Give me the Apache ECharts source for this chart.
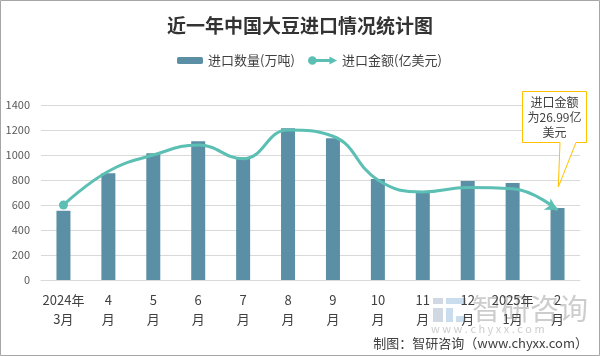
<!DOCTYPE html>
<html><head><meta charset="utf-8">
<script src="https://cdn.jsdelivr.net/npm/echarts@6/dist/echarts.min.js"></script>
<style>html,body{margin:0;padding:0;background:#fff}#c{width:600px;height:356px}</style>
</head><body><div id="c"></div>
<script>
var categories = ['2024年\n3月','4\n月','5\n月','6\n月','7\n月','8\n月','9\n月','10\n月','11\n月','12\n月','2025年\n1月','2\n月'];
var volume = [555, 855, 1015, 1110, 980, 1215, 1135, 808, 708, 792, 776, 576];
var amount = [600, 870, 1000, 1080, 970, 1200, 1150, 800, 705, 740, 730, 560];
var yTicks = [0, 200, 400, 600, 800, 1000, 1200, 1400];
var volumeName = '进口数量(万吨)';
var amountName = '进口金额(亿美元)';
var calloutText = '进口金额\n为26.99亿\n美元';

var FONT = '"Microsoft YaHei","Noto Sans CJK SC","Noto Sans",sans-serif';
var BAR = '#5b8fa5';
var LINE = '#5cbfb4';

var lineData = amount.map(function (v, i) {
  if (i === 0) return { value: v, symbol: 'circle', symbolSize: 9 };
  if (i === amount.length - 1) return { value: v, symbol: 'arrow', symbolSize: [10, 12], symbolRotate: -120 };
  return v;
});

var chart = echarts.init(document.getElementById('c'), null, { renderer: 'canvas' });
chart.setOption({
  animation: false,
  backgroundColor: '#fff',
  textStyle: { fontFamily: FONT },
  title: {
    text: '近一年中国大豆进口情况统计图',
    left: 'center', top: 11,
    textStyle: { fontSize: 19, fontWeight: 'bold', color: '#333', fontFamily: FONT }
  },
  legend: [{
    data: [volumeName], left: 172, top: 49,
    itemWidth: 26, itemHeight: 7,
    textStyle: { fontSize: 13, color: '#404040', fontFamily: FONT }
  }, {
    data: [{ name: amountName, icon: 'path://M0,15 A15,15 0 1,1 30,15 A15,15 0 1,1 0,15 Z M28,10 L74,10 L74,1 L100,15 L74,29 L74,20 L28,20 Z' }],
    left: 303, top: 49,
    itemWidth: 29, itemHeight: 9,
    textStyle: { fontSize: 13, color: '#404040', fontFamily: FONT }
  }],
  grid: { left: 41, right: 20, top: 105, bottom: 76, containLabel: false },
  xAxis: {
    type: 'category', data: categories,
    axisLine: { lineStyle: { color: '#d9d9d9' } },
    axisTick: { show: false },
    axisLabel: { fontSize: 13, color: '#404040', lineHeight: 19, margin: 11, interval: 0, fontFamily: FONT }
  },
  yAxis: {
    type: 'value', min: yTicks[0], max: yTicks[yTicks.length - 1], interval: yTicks[1] - yTicks[0],
    axisLine: { show: false }, axisTick: { show: false },
    splitLine: { lineStyle: { color: '#d9d9d9' } },
    axisLabel: { fontSize: 11, color: '#595959', margin: 11, fontFamily: FONT, formatter: function (v) { return String(v); } }
  },
  series: [{
    name: volumeName, type: 'bar', data: volume, barWidth: 14,
    itemStyle: { color: BAR }
  }, {
    name: amountName, type: 'line', data: lineData, smooth: 0.45,
    symbol: 'none',
    lineStyle: { color: LINE, width: 3 },
    itemStyle: { color: LINE },
    z: 3
  }],
  graphic: [
    { type: 'rect', shape: { x: 0.5, y: 0.5, width: 599, height: 355 }, style: { fill: 'none', stroke: '#a6a6a6', lineWidth: 1 }, silent: true },
    { type: 'group', silent: true, z: 100, children: [
      { type: 'rect', shape: { x: 433, y: 298, width: 10, height: 6 }, style: { fill: '#c4cedd', opacity: 0.8 } },
      { type: 'rect', shape: { x: 433, y: 308, width: 10, height: 14 }, style: { fill: '#c4cedd', opacity: 0.8 } },
      { type: 'rect', shape: { x: 446, y: 298, width: 20, height: 6 }, style: { fill: '#bcd4ea', opacity: 0.8 } },
      { type: 'rect', shape: { x: 446, y: 308, width: 7, height: 14 }, style: { fill: '#bcd4ea', opacity: 0.8 } },
      { type: 'rect', shape: { x: 456, y: 316, width: 10, height: 6 }, style: { fill: '#bcd4ea', opacity: 0.8 } },
      { type: 'text', style: { text: '智研咨询', x: 472, y: 309, fontSize: 29, fill: '#b8b8b8', opacity: 0.7, textVerticalAlign: 'middle', fontFamily: FONT } },
      { type: 'text', style: { text: 'w w w . c h y x x . c o m', x: 431, y: 329, fontSize: 11, fill: '#c0c0c0', opacity: 0.8, textVerticalAlign: 'middle', fontFamily: FONT } }
    ]},
    { type: 'text', silent: true, style: { text: '制图：智研咨询（www.chyxx.com）', x: 588, y: 343, textAlign: 'right', textVerticalAlign: 'middle', fontSize: 13, fill: '#404040', fontFamily: FONT } },
    { type: 'polygon', silent: true, z: 50, shape: { points: [[522.5, 91.5], [586.5, 91.5], [586.5, 142.5], [576, 142.5], [558.3, 187], [560, 142.5], [522.5, 142.5]] }, style: { fill: '#fff', stroke: '#ffc000', lineWidth: 1 } },
    { type: 'text', silent: true, z: 51, style: { text: calloutText, x: 554.5, y: 117, textAlign: 'center', textVerticalAlign: 'middle', fontSize: 12, lineHeight: 15, fill: '#404040', fontFamily: FONT } }
  ]
});
</script></body></html>
